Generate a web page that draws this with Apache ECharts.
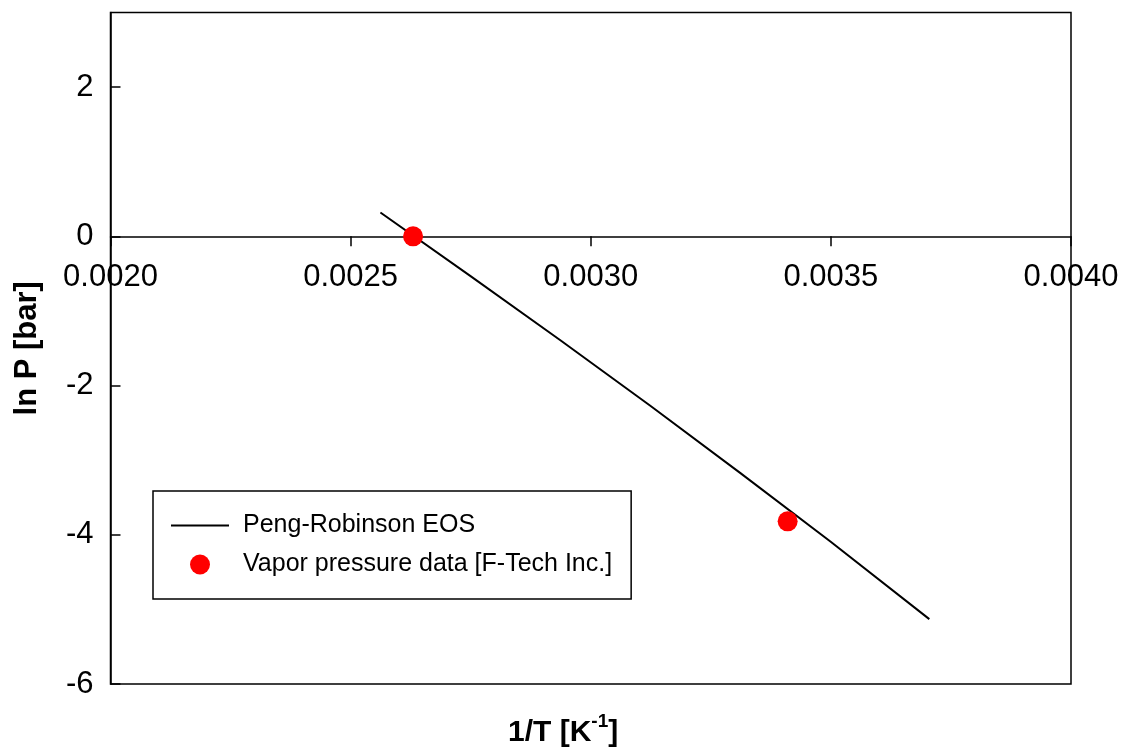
<!DOCTYPE html>
<html>
<head>
<meta charset="utf-8">
<script src="https://cdn.jsdelivr.net/npm/echarts@6/dist/echarts.min.js"></script>
<style>
  html, body { margin: 0; padding: 0; background: #fff; }
  #main { width: 1122px; height: 750px; }
</style>
</head>
<body>
<div id="main"></div>
<script>
// Peng-Robinson EOS curve (1/T, ln P)
var eosX = [0.002562, 0.002749, 0.002936, 0.003124, 0.003311, 0.003499, 0.003705];
var eosY = [0.32, -0.53, -1.39, -2.27, -3.17, -4.09, -5.13];
// vapor pressure data points
var dataX = [0.00263, 0.00341];
var dataY = [0.0, -3.82];

var xTicks = { min: 0.002, max: 0.004, interval: 0.0005 };
var yTicks = { min: -6, max: 3, interval: 2 };

function pairs(xs, ys) {
    var out = [];
    for (var i = 0; i < xs.length; i++) out.push([xs[i], ys[i]]);
    return out;
}

var font = "'Liberation Sans', Arial, sans-serif";
var gridTop = 12.5, gridBottom = 66, chartH = 750;
var plotH = chartH - gridTop - gridBottom;
// x axis sits on ln P = 0
var zeroOffset = -plotH * (0 - yTicks.min) / (yTicks.max - yTicks.min);

var option = {
    animation: false,
    backgroundColor: '#fff',
    textStyle: { fontFamily: font, color: '#000' },
    grid: {
        left: 110.5, right: 51, top: gridTop, bottom: gridBottom,
        outerBoundsMode: 'none',
        containLabel: false,
        show: true, borderColor: '#000', borderWidth: 1.5, backgroundColor: 'transparent'
    },
    legend: {
        orient: 'vertical',
        left: 153, top: 491,
        padding: [22, 19, 22, 17],
        itemWidth: 58, itemHeight: 20, itemGap: 14,
        borderColor: '#000', borderWidth: 1.5,
        textStyle: { fontSize: 25, color: '#000', fontFamily: font, lineHeight: 20, padding: [0, 0, 0, 9] },
        data: [
            { name: 'Peng-Robinson EOS', itemStyle: { opacity: 0 } },
            { name: 'Vapor pressure data [F-Tech Inc.]' }
        ]
    },
    xAxis: {
        type: 'value',
        position: 'bottom',
        offset: zeroOffset,
        min: xTicks.min, max: xTicks.max, interval: xTicks.interval,
        axisLine: { onZero: false, lineStyle: { color: '#000', width: 1.5 } },
        axisTick: { show: true, inside: false, length: 10, lineStyle: { color: '#000', width: 1.5 } },
        axisLabel: {
            color: '#000', fontSize: 31, fontFamily: font, margin: 26,
            formatter: function (v) { return v.toFixed(4); }
        },
        splitLine: { show: false }
    },
    yAxis: {
        type: 'value',
        min: yTicks.min, max: yTicks.max, interval: yTicks.interval,
        name: 'ln P [bar]',
        nameLocation: 'middle',
        nameGap: 68,
        nameTextStyle: { fontSize: 31, fontWeight: 'bold', color: '#000', fontFamily: font },
        axisLine: { show: true, onZero: false, lineStyle: { color: '#000', width: 1.5 } },
        axisTick: { show: true, inside: true, length: 10, lineStyle: { color: '#000', width: 1.5 } },
        axisLabel: { color: '#000', fontSize: 31, fontFamily: font, margin: 17, showMaxLabel: false },
        splitLine: { show: false }
    },
    graphic: [{
        type: 'text',
        left: 508, top: 712,
        style: {
            text: '{m|1/T [K}{s|-1}{m|]}',
            rich: {
                m: { fontSize: 30, fontWeight: 'bold', fontFamily: font, fill: '#000', lineHeight: 36, verticalAlign: 'bottom' },
                s: { fontSize: 19, fontWeight: 'bold', fontFamily: font, fill: '#000', lineHeight: 36, verticalAlign: 'top' }
            }
        }
    }],
    series: [
        {
            name: 'Peng-Robinson EOS',
            type: 'line',
            symbol: 'none',
            data: pairs(eosX, eosY),
            lineStyle: { color: '#000', width: 2 },
            itemStyle: { color: '#000' },
            z: 2
        },
        {
            name: 'Vapor pressure data [F-Tech Inc.]',
            type: 'scatter',
            symbol: 'circle',
            symbolSize: 20,
            data: pairs(dataX, dataY),
            itemStyle: { color: '#ff0000', opacity: 1 },
            z: 5
        }
    ]
};

var chart = echarts.init(document.getElementById('main'));
chart.setOption(option);
</script>
</body>
</html>
